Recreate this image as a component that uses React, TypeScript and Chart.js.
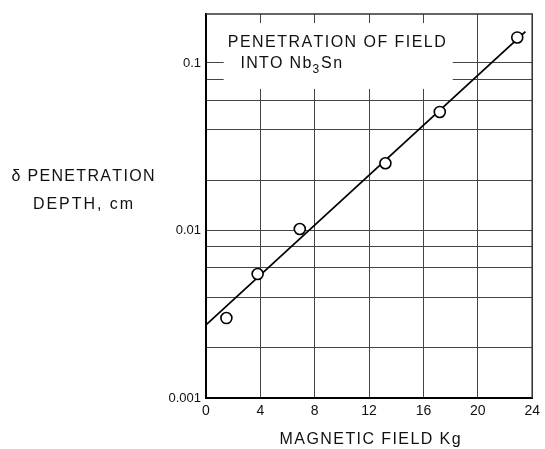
import React, { useEffect, useRef } from "react";
import { Chart, registerables } from "chart.js";

Chart.register(...registerables);

// ---- data ----
const fieldValues = [1.5, 3.8, 6.9, 13.2, 17.2, 22.9];
const depthValues = [0.003, 0.0055, 0.0102, 0.0252, 0.051, 0.142];
const fitField = [0, 23.5];
const fitDepth = [0.00273, 0.154];
const yGridValues = [0.001, 0.002, 0.004, 0.006, 0.008, 0.01, 0.02, 0.04, 0.06, 0.08, 0.1];
const yLabelValues = [0.001, 0.01, 0.1];
const yLabelTexts = ["0.001", "0.01", "0.1"];
const xMin = 0;
const xMax = 24;
const xStep = 4;
const yMin = 0.001;
const yMax = 0.196;

const FONT = '"Liberation Sans", Arial, sans-serif';

function drawSpaced(
  ctx: CanvasRenderingContext2D,
  text: string,
  x: number,
  y: number,
  size: number,
  target: number,
  align: "left" | "center"
) {
  ctx.font = `${size}px ${FONT}`;
  const chars = Array.from(text);
  const widths = chars.map((c) => ctx.measureText(c).width);
  const natural = widths.reduce((a, b) => a + b, 0);
  const spacing = chars.length > 1 ? (target - natural) / (chars.length - 1) : 0;
  let cx = align === "center" ? x - target / 2 : x;
  ctx.textAlign = "left";
  ctx.textBaseline = "middle";
  chars.forEach((c, i) => {
    ctx.fillText(c, cx, y);
    cx += widths[i] + spacing;
  });
  return cx - spacing;
}

const decorPlugin = {
  id: "decor",
  beforeDatasetsDraw(chart: any) {
    const { ctx, scales } = chart;
    const x = scales.x;
    const y = scales.y;
    ctx.save();
    // blank box for the title
    const l = x.getPixelForValue(1.3);
    const r = x.getPixelForValue(18.15);
    const t = y.getPixelForValue(0.173);
    const b = y.getPixelForValue(0.07);
    ctx.fillStyle = "#ffffff";
    ctx.fillRect(l, t, r - l, b - t);
    ctx.fillStyle = "#111";
    drawSpaced(ctx, "PENETRATION OF FIELD", x.getPixelForValue(1.6), y.getPixelForValue(0.1315), 16, 218, "left");
    // second line with subscript
    const ly = y.getPixelForValue(0.0987);
    let cx = drawSpaced(ctx, "INTO Nb", x.getPixelForValue(2.53), ly, 16, 71, "left");
    cx += 1;
    ctx.font = `12px ${FONT}`;
    ctx.fillText("3", cx, ly + 6);
    cx += ctx.measureText("3").width + 2;
    drawSpaced(ctx, "Sn", cx, ly, 16, 21, "left");
    ctx.restore();
  },
  afterDraw(chart: any) {
    const { ctx, chartArea } = chart;
    ctx.save();
    // top and right frame
    ctx.strokeStyle = "#333";
    ctx.lineWidth = 1.5;
    ctx.beginPath();
    ctx.moveTo(chartArea.left, chartArea.top);
    ctx.lineTo(chartArea.right, chartArea.top);
    ctx.lineTo(chartArea.right, chartArea.bottom);
    ctx.stroke();
    ctx.fillStyle = "#111";
    // y axis title (horizontal, two lines)
    drawSpaced(ctx, "δ PENETRATION", 83, 177, 16, 143, "center");
    drawSpaced(ctx, "DEPTH, cm", 83, 205, 16, 100, "center");
    // x axis title
    const cxm = (chartArea.left + chartArea.right) / 2;
    drawSpaced(ctx, "MAGNETIC FIELD Kg", cxm + 1, chartArea.bottom + 42, 16, 181, "center");
    ctx.restore();
  },
};

export default function App() {
  const ref = useRef<HTMLCanvasElement | null>(null);
  useEffect(() => {
    if (!ref.current) return;
    const points = fieldValues.map((v, i) => ({ x: v, y: depthValues[i] }));
    const fit = fitField.map((v, i) => ({ x: v, y: fitDepth[i] }));
    const chart = new Chart(ref.current, {
      type: "scatter",
      data: {
        datasets: [
          {
            data: points,
            pointRadius: 5.5,
            pointHoverRadius: 5.5,
            pointBorderWidth: 1.6,
            pointBackgroundColor: "#ffffff",
            pointBorderColor: "#000000",
            showLine: false,
          },
          {
            data: fit,
            showLine: true,
            pointRadius: 0,
            borderColor: "#000000",
            borderWidth: 1.8,
          },
        ],
      },
      plugins: [decorPlugin],
      options: {
        responsive: false,
        animation: false,
        events: [],
        layout: { padding: { top: 14, right: 9, left: 0, bottom: 0 } },
        plugins: { legend: { display: false }, tooltip: { enabled: false }, title: { display: false } },
        scales: {
          x: {
            type: "linear",
            min: xMin,
            max: xMax,
            ticks: { stepSize: xStep, color: "#111", font: { size: 14, family: FONT }, padding: 5, maxRotation: 0 },
            grid: { color: "#444", lineWidth: 1, drawTicks: false },
            border: { display: true, color: "#000", width: 2 },
            afterFit(scale: any) {
              scale.height = 51;
            },
          },
          y: {
            type: "logarithmic",
            min: yMin,
            max: yMax,
            afterBuildTicks(scale: any) {
              scale.ticks = yGridValues.map((v) => ({ value: v }));
            },
            ticks: {
              autoSkip: false,
              color: "#111",
              font: { size: 13, family: FONT },
              padding: 5,
              callback(value: any) {
                const idx = yLabelValues.findIndex((v) => Math.abs(v - Number(value)) / v < 1e-6);
                return idx >= 0 ? yLabelTexts[idx] : "";
              },
            },
            grid: { color: "#444", lineWidth: 1, drawTicks: false },
            border: { display: true, color: "#000", width: 2 },
            afterFit(scale: any) {
              scale.width = 206;
            },
          },
        },
      },
    });
    return () => chart.destroy();
  }, []);
  return (
    <div style={{ position: "fixed", left: 0, top: 0, width: 545, height: 449, background: "#fff" }}>
      <canvas ref={ref} width={545} height={449} />
    </div>
  );
}
